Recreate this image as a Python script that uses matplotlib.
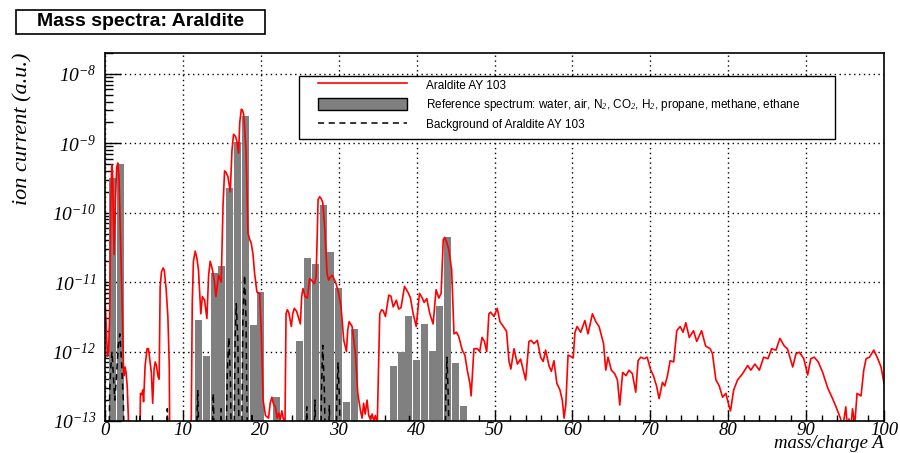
import matplotlib
matplotlib.use("Agg")
import matplotlib.pyplot as plt
from matplotlib.lines import Line2D
from matplotlib.patches import Patch, Rectangle
from matplotlib.ticker import FixedLocator, NullFormatter, MultipleLocator

plt.rcParams['mathtext.fontset'] = 'custom'
plt.rcParams['mathtext.rm'] = 'Liberation Serif:italic'
plt.rcParams['mathtext.it'] = 'Liberation Serif:italic'

# Araldite AY 103 scan (mass/charge, ion current); 1e-14 = below the plotted range
araldite_mass = [
    0.0, 0.15, 0.3, 0.45, 0.6, 0.75, 0.87, 0.97, 1.17, 1.35, 1.5, 1.64, 1.8, 2.03, 2.24,
    2.37, 2.45, 2.58, 2.7, 2.85, 3.0, 3.15, 4.4, 4.55, 4.7, 4.85, 4.95, 5.15, 5.4, 5.58,
    5.8, 5.95, 6.12, 6.3, 6.45, 6.6, 6.8, 6.95, 7.08, 7.25, 7.45, 7.6, 7.85, 8.07, 8.25,
    8.35, 11.0, 11.2, 11.35, 11.58, 11.8, 12.0, 12.3, 12.5, 12.78, 13.08, 13.3, 13.5, 13.8,
    14.05, 14.24, 14.58, 14.92, 15.15, 15.35, 15.55, 15.78, 16.08, 16.3, 16.5, 16.75, 16.93,
    17.15, 17.3, 17.5, 17.65, 17.8, 18.1, 18.25, 18.35, 18.55, 18.78, 19.0, 19.2, 19.5,
    19.85, 20.07, 20.3, 20.6, 21.0, 21.2, 21.43, 21.6, 21.86, 22.1, 22.3, 22.5, 22.7, 22.9,
    23.1, 23.24, 23.4, 23.58, 23.92, 24.1, 24.3, 24.6, 25.08, 25.25, 25.42, 25.68, 25.98,
    26.27, 26.5, 26.88, 27.1, 27.25, 27.35, 27.56, 27.75, 27.95, 28.2, 28.5, 28.7, 28.9,
    29.15, 29.6, 30.0, 30.3, 30.65, 31.0, 31.15, 31.34, 31.72, 32.15, 32.45, 32.8, 33.0,
    33.2, 33.4, 33.64, 33.85, 34.1, 34.3, 34.5, 34.7, 34.95, 35.27, 35.5, 35.7, 36.0, 36.43,
    36.7, 37.0, 37.4, 37.7, 38.0, 38.45, 38.9, 39.2, 39.56, 39.95, 40.37, 40.7, 40.96, 41.3,
    41.7, 42.12, 42.5, 42.85, 43.15, 43.42, 43.6, 43.85, 44.14, 44.5, 44.8, 45.1, 45.4,
    45.86, 46.2, 46.5, 46.84, 47.0, 47.36, 47.8, 48.1, 48.4, 48.7, 49.0, 49.28, 49.5, 49.93,
    50.35, 50.7, 51.13, 51.55, 51.85, 52.1, 52.5, 52.94, 53.35, 53.7, 54.0, 54.42, 54.7,
    55.06, 55.5, 55.92, 56.25, 56.56, 57.0, 57.3, 57.63, 58.0, 58.4, 58.7, 58.93, 59.15,
    59.44, 59.8, 60.1, 60.33, 60.6, 61.06, 61.6, 62.0, 62.57, 63.0, 63.42, 64.0, 64.28,
    64.57, 65.0, 65.43, 65.78, 66.08, 66.45, 66.88, 67.27, 67.7, 68.13, 68.43, 68.78, 69.2,
    69.6, 70.06, 70.4, 70.8, 71.13, 71.56, 71.86, 72.2, 72.55, 73.0, 73.4, 73.83, 74.2,
    74.56, 75.0, 75.55, 75.96, 76.58, 77.1, 77.69, 77.98, 78.42, 78.85, 79.28, 79.7, 80.13,
    80.3, 80.7, 81.2, 81.84, 82.5, 82.9, 83.43, 84.0, 84.55, 85.1, 85.58, 86.13, 86.64,
    87.2, 87.6, 88.28, 88.7, 89.13, 89.7, 90.2, 90.6, 91.05, 91.56, 92.13, 92.77, 93.4,
    93.84, 94.4, 94.7, 95.1, 95.3, 95.5, 95.75, 95.96, 96.25, 96.54, 97.05, 97.4, 97.7,
    98.13, 98.69, 99.2, 99.62, 100.0,
]
araldite_current = [
    5.4e-12, 2.5e-12, 8.5e-13, 1.0e-12, 3.2e-12, 1.6e-10, 4.9e-10, 3.5e-10, 2.5e-11, 1.6e-10,
    4.5e-10, 5.2e-10, 3.2e-10, 2.9e-11, 3.2e-12, 6.0e-13, 4.5e-13, 6.0e-13, 5.0e-13, 3.2e-13,
    1.1e-13, 1e-14, 1e-14, 2.5e-13, 2.4e-13, 2.8e-13, 1.9e-13, 6.3e-13, 1.1e-12, 1.1e-12,
    6.8e-13, 5.0e-13, 1.8e-13, 5.6e-13, 7.1e-13, 6.3e-13, 4.4e-13, 4.0e-13, 8.5e-12, 1.4e-11,
    1.6e-11, 1.5e-11, 7.9e-12, 3.2e-12, 6.3e-13, 1e-14, 1e-14, 5.0e-12, 2.0e-11, 2.8e-11,
    2.2e-11, 1.5e-11, 3.5e-12, 6.2e-12, 5.5e-12, 3.0e-12, 1.26e-11, 2.0e-11, 1.5e-11,
    1.0e-11, 6.2e-12, 1.26e-11, 1.0e-11, 1.26e-10, 4.0e-10, 3.8e-10, 3.3e-10, 2.0e-10,
    7.9e-10, 1.35e-9, 1.26e-9, 1.07e-9, 7.2e-10, 2.0e-9, 3.1e-9, 3.0e-9, 2.6e-9, 8.1e-10,
    1.6e-10, 5.1e-11, 4.2e-11, 3.6e-11, 2.5e-11, 1.35e-11, 7.2e-12, 6.9e-12, 1.8e-12,
    2.0e-13, 1.2e-13, 1.1e-13, 1.8e-13, 2.2e-13, 1.8e-13, 1.6e-13, 1.1e-13, 1.3e-13,
    1.05e-13, 1.4e-13, 1.07e-13, 8e-14, 3.5e-12, 4.0e-12, 3.7e-12, 2.3e-12, 3.5e-12,
    4.2e-12, 3.8e-12, 2.5e-12, 6.3e-12, 8.1e-12, 6.2e-12, 5.9e-12, 1.12e-11, 1.07e-11,
    9.5e-12, 1.2e-11, 5.0e-11, 1.55e-10, 1.7e-10, 1.6e-10, 1.4e-10, 6.3e-11, 1.35e-11,
    1.07e-11, 1.17e-11, 1.26e-11, 1.0e-11, 6.9e-12, 4.4e-12, 1.45e-12, 1.0e-12, 2.0e-12,
    2.7e-12, 2.3e-12, 9.3e-13, 2.5e-13, 1.4e-13, 1.1e-13, 1.8e-13, 1.26e-13, 2.0e-13,
    1.2e-13, 1.05e-13, 1.26e-13, 1.0e-13, 1.2e-13, 9e-14, 3.5e-12, 4.0e-12, 3.9e-12,
    3.2e-12, 6.5e-12, 6.3e-12, 4.4e-12, 5.5e-12, 4.1e-12, 4.3e-12, 8.7e-12, 7.1e-12,
    6.0e-12, 3.5e-12, 2.3e-12, 6.9e-12, 6.0e-12, 5.1e-12, 5.8e-12, 3.5e-12, 2.5e-12,
    7.8e-12, 5.9e-12, 6.9e-12, 4.1e-11, 4.4e-11, 3.8e-11, 2.9e-11, 1.5e-11, 1.8e-12,
    1.9e-12, 1.66e-12, 1.05e-12, 8.9e-13, 5.4e-13, 3.5e-13, 2.3e-13, 1.1e-12, 1.1e-12,
    1.0e-12, 1.6e-12, 1.4e-12, 1.0e-12, 3.5e-12, 3.7e-12, 3.2e-12, 4.2e-12, 2.7e-12,
    2.3e-12, 1.95e-12, 7.4e-13, 5.6e-13, 1.1e-12, 6.6e-13, 7.8e-13, 5.4e-13, 3.9e-13,
    1.4e-12, 1.45e-12, 1.3e-12, 1.45e-12, 8.3e-13, 7.2e-13, 1.05e-12, 6.2e-13, 5.2e-13,
    7.4e-13, 3.5e-13, 2.8e-13, 2.0e-13, 1.1e-13, 1.7e-13, 8.9e-13, 8.5e-13, 8.1e-13,
    1.9e-12, 2.3e-12, 1.9e-12, 2.8e-12, 1.8e-12, 3.5e-12, 2.7e-12, 2.3e-12, 1.3e-12,
    5.4e-13, 8.3e-13, 5.4e-13, 4.8e-13, 3.9e-13, 1.7e-13, 5.0e-13, 4.5e-13, 5.4e-13,
    4.8e-13, 2.6e-13, 7.4e-13, 8.3e-13, 7.9e-13, 8.3e-13, 5.4e-13, 4.5e-13, 3.2e-13,
    2.1e-13, 3.6e-13, 3.2e-13, 4.5e-13, 7.4e-13, 7.1e-13, 2.0e-12, 2.3e-12, 1.9e-12,
    2.6e-12, 1.6e-12, 2.0e-12, 1.4e-12, 2.0e-12, 1.2e-12, 1.1e-12, 9.3e-13, 3.9e-13,
    3.2e-13, 2.2e-13, 2.5e-13, 1.6e-13, 1.4e-13, 2.8e-13, 3.9e-13, 4.8e-13, 6.3e-13,
    5.4e-13, 6.6e-13, 5.4e-13, 8.3e-13, 7.9e-13, 1.1e-12, 1.05e-12, 1.55e-12, 1.2e-12,
    1.1e-12, 6.0e-13, 9.3e-13, 9.8e-13, 7.9e-13, 4.6e-13, 7.9e-13, 8.3e-13, 7.1e-13,
    5.0e-13, 3.0e-13, 2.1e-13, 1.6e-13, 1.1e-13, 8e-14, 1.6e-13, 8e-14, 1.07e-13, 8e-14,
    1.5e-13, 9e-14, 2.5e-13, 2.3e-13, 5.4e-13, 7.9e-13, 8.3e-13, 1.05e-12, 7.9e-13,
    6.0e-13, 3.5e-13,
]

# reference spectrum (integer masses)
ref_mass = [1, 2, 12, 13, 14, 15, 16, 17, 18, 19, 20, 22, 25, 26, 27, 28, 29, 30, 31, 32,
            37, 38, 39, 40, 41, 42, 43, 44, 45, 46]
ref_current = [3.2e-10, 5.1e-10, 2.8e-12, 8.4e-13, 1.37e-11, 1.7e-11, 2.3e-10, 1.03e-9,
               2.45e-9, 2.4e-12, 7.2e-12, 2.1e-13, 1.4e-12, 2.2e-11, 1.8e-11, 1.3e-10,
               2.7e-11, 8.3e-12, 1.8e-13, 2.1e-12, 6.2e-13, 9.9e-13, 3.2e-12, 7.5e-13,
               2.5e-12, 1.0e-12, 4.5e-12, 4.4e-11, 6.8e-13, 1.55e-13]

# background of Araldite AY 103
bkg_mass = [0.0, 0.45, 0.6, 0.75, 0.9, 1.05, 1.25, 1.45, 1.7, 1.9, 2.1, 2.35, 2.6, 4.3, 4.5,
            4.7, 7.8, 8.0, 8.2, 11.6, 11.9, 12.2, 13.6, 13.9, 14.2, 14.7, 14.9, 15.1, 15.45,
            15.7, 15.9, 16.1, 16.3, 16.5, 16.7, 16.85, 17.05, 17.3, 17.5, 17.7, 17.92, 18.1,
            18.35, 18.7, 18.85, 19.0, 25.7, 25.9, 26.1, 26.7, 26.95, 27.2, 27.6, 27.8, 27.95,
            28.15, 28.4, 28.6, 28.8, 29.0, 29.6, 29.75, 29.92, 30.1, 30.3, 39.0, 39.1, 39.2,
            43.6, 43.75, 43.9, 44.05, 44.3, 100.0]
bkg_current = [1e-14, 1e-14, 2.5e-13, 6e-13, 1.0e-12, 5e-13, 2e-13, 4e-13, 1.2e-12, 1.8e-12,
               8e-13, 2e-13, 1e-14, 1e-14, 1.2e-13, 1e-14, 1e-14, 1.5e-13, 1e-14, 1e-14,
               2.8e-13, 1e-14, 1e-14, 2.5e-13, 1e-14, 1e-14, 1.5e-13, 1e-14, 1e-14, 5e-13,
               1.6e-12, 4e-13, 1e-14, 1e-14, 1.5e-12, 4.9e-12, 1.5e-12, 1e-14, 1e-14, 3e-12,
               1.26e-11, 3e-12, 1e-14, 1e-14, 1.3e-13, 1e-14, 1e-14, 1.6e-13, 1e-14, 1e-14,
               2e-13, 1e-14, 1e-14, 3e-13, 1.23e-12, 3e-13, 1e-14, 1e-14, 1.7e-13, 1e-14,
               1e-14, 2e-13, 7e-13, 2e-13, 1e-14, 1e-14, 1.2e-13, 1e-14, 1e-14, 2.5e-13,
               8.3e-13, 2.5e-13, 1e-14, 1e-14]

decades = [1e-13, 1e-12, 1e-11, 1e-10, 1e-9, 1e-8]
decade_labels = [r'$10^{-13}$', r'$10^{-12}$', r'$10^{-11}$', r'$10^{-10}$', r'$10^{-9}$', r'$10^{-8}$']

fig = plt.figure(figsize=(9, 4.53), dpi=100)
ax = fig.add_axes([105 / 900, 32 / 453, 779 / 900, 368 / 453])

ax.bar(ref_mass, ref_current, width=0.9, bottom=1e-14, color='#808080', zorder=1)
ax.plot(araldite_mass, araldite_current, color='red', lw=1.2, zorder=2)
ax.plot(bkg_mass, bkg_current, color='black', lw=1.1, ls=(0, (4, 3)), zorder=3)

ax.set_yscale('log')
ax.set_xlim(0, 100)
ax.set_ylim(1e-13, 2e-8)

ax.xaxis.set_major_locator(MultipleLocator(10))
ax.xaxis.set_minor_locator(MultipleLocator(2))
ax.yaxis.set_major_locator(FixedLocator(decades))
ax.set_yticklabels(decade_labels)
ax.yaxis.set_minor_locator(FixedLocator([m * d for d in decades for m in range(2, 10)]))
ax.yaxis.set_minor_formatter(NullFormatter())

ax.tick_params(axis='x', which='major', direction='in', length=8, width=1, pad=0.5, labelsize=13.5)
ax.tick_params(axis='x', which='minor', direction='in', length=4, width=1)
ax.tick_params(axis='y', which='major', direction='in', length=11.5, width=1, pad=6, labelsize=14)
ax.tick_params(axis='y', which='minor', direction='in', length=6, width=1)
for lab in ax.get_xticklabels():
    lab.set_family('Liberation Serif')
    lab.set_style('italic')

ax.grid(True, which='major', color='black', ls=(0, (1, 2.5)), lw=1)
ax.set_axisbelow(True)
for sp in ax.spines.values():
    sp.set_linewidth(1.2)

# legend box
ax.add_patch(Rectangle((0.249, 0.766), 0.688, 0.1715, transform=ax.transAxes,
                       facecolor='white', edgecolor='black', lw=1, zorder=4))
handles = [Line2D([], [], color='red', lw=1.2),
           Patch(facecolor='#808080', edgecolor='black', lw=1),
           Line2D([], [], color='black', lw=1.1, ls=(0, (4, 3)))]
labels = ['Araldite AY 103',
          r'Reference spectrum: water, air, N$_2$, CO$_2$, H$_2$, propane, methane, ethane',
          'Background of Araldite AY 103']
leg = ax.legend(handles, labels, loc='upper left', bbox_to_anchor=(0.273, 0.931),
                frameon=False, handlelength=7.6, handleheight=1.25,
                handletextpad=1.6, labelspacing=0.45, borderpad=0, borderaxespad=0,
                prop={'family': 'Liberation Sans', 'size': 8.5})
leg.set_zorder(5)

# title box
fig.patches.append(Rectangle((16 / 900, 1 - 34 / 453), 249 / 900, 24 / 453,
                             transform=fig.transFigure, facecolor='white',
                             edgecolor='black', lw=1.2))
fig.text(140.5 / 900, 1 - 22 / 453, 'Mass spectra: Araldite', ha='center', va='center',
         fontsize=14, fontweight='bold', family='Liberation Sans')

fig.text(23 / 900, 1 - 53 / 453, 'ion current (a.u.)', rotation=90, ha='center', va='top',
         fontsize=16, style='italic', family='Liberation Serif')
fig.text(884 / 900, 1 - 435 / 453, 'mass/charge A', ha='right', va='top',
         fontsize=13.5, style='italic', family='Liberation Serif')

fig.savefig('out.png', dpi=100)
